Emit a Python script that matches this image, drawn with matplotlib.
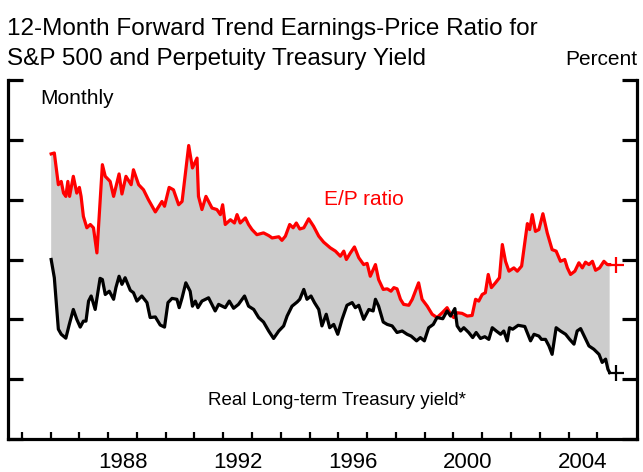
import matplotlib
matplotlib.use("Agg")
import matplotlib.pyplot as plt
import numpy as np

plt.rcParams['font.family'] = ['Liberation Sans', 'DejaVu Sans']

# ---- Data (percent) ----
ep_years = [1986.02, 1986.13, 1986.27, 1986.37, 1986.45, 1986.53, 1986.60, 1986.66, 1986.79, 1986.91,
            1987.00, 1987.06, 1987.14, 1987.26, 1987.38, 1987.49, 1987.61, 1987.80, 1987.90, 1988.07,
            1988.19, 1988.38, 1988.48, 1988.62, 1988.80, 1988.88, 1989.06, 1989.23, 1989.40, 1989.64,
            1989.87, 1989.96, 1990.12, 1990.27, 1990.45, 1990.57, 1990.80, 1990.93, 1991.09, 1991.14,
            1991.26, 1991.40, 1991.61, 1991.78, 1991.90, 1991.98, 1992.07, 1992.25, 1992.39, 1992.48,
            1992.59, 1992.77, 1992.88, 1993.00, 1993.17, 1993.40, 1993.58, 1993.70, 1993.93, 1994.04,
            1994.16, 1994.31, 1994.43, 1994.54, 1994.66, 1994.80, 1994.97, 1995.14, 1995.32, 1995.49,
            1995.72, 1995.90, 1996.07, 1996.19, 1996.28, 1996.42, 1996.56, 1996.71, 1996.88, 1997.00,
            1997.11, 1997.29, 1997.40, 1997.56, 1997.70, 1997.83, 1997.93, 1998.04, 1998.16, 1998.27,
            1998.45, 1998.57, 1998.68, 1998.79, 1998.91, 1999.09, 1999.26, 1999.43, 1999.61, 1999.78,
            1999.90, 2000.01, 2000.13, 2000.30, 2000.48, 2000.65, 2000.77, 2000.88, 2001.00, 2001.11,
            2001.21, 2001.32, 2001.46, 2001.60, 2001.70, 2001.81, 2001.93, 2002.10, 2002.22, 2002.37,
            2002.48, 2002.57, 2002.65, 2002.74, 2002.85, 2002.97, 2003.11, 2003.26, 2003.43, 2003.57,
            2003.72, 2003.87, 2003.96, 2004.07, 2004.22, 2004.36, 2004.48, 2004.59, 2004.71, 2004.83,
            2004.94, 2005.08, 2005.23, 2005.35, 2005.43]
ep_values = [9.53, 9.56, 8.50, 8.61, 8.22, 8.11, 8.61, 8.11, 8.78, 8.22,
             8.41, 8.11, 7.44, 7.06, 7.17, 7.06, 6.22, 9.17, 8.78, 8.61,
             8.11, 8.86, 8.19, 8.78, 8.50, 9.00, 8.50, 8.33, 8.00, 7.59,
             7.94, 7.78, 8.41, 8.33, 7.83, 7.94, 9.81, 9.06, 9.39, 8.11,
             7.67, 8.11, 7.72, 7.67, 7.50, 7.83, 7.17, 7.33, 7.22, 7.50,
             7.22, 7.39, 7.17, 7.00, 6.83, 6.89, 6.80, 6.72, 6.76, 6.64,
             6.78, 7.17, 7.06, 7.22, 7.02, 7.06, 7.36, 7.11, 6.78, 6.58,
             6.39, 6.28, 6.11, 6.28, 6.00, 6.22, 6.42, 6.06, 5.83, 5.87,
             5.44, 5.83, 5.33, 5.00, 5.02, 4.94, 5.06, 5.02, 4.67, 4.50,
             4.47, 4.67, 4.94, 5.22, 4.67, 4.44, 4.17, 4.06, 4.22, 4.39,
             4.17, 4.06, 4.22, 4.20, 4.11, 4.13, 4.67, 4.61, 4.83, 4.89,
             5.50, 5.06, 5.22, 5.39, 6.50, 5.94, 5.61, 5.72, 5.61, 5.78,
             6.56, 7.20, 7.00, 7.50, 6.94, 7.00, 7.53, 6.89, 6.33, 6.28,
             5.94, 6.00, 5.72, 5.50, 5.61, 5.89, 5.72, 5.91, 5.83, 5.94,
             5.64, 5.72, 5.94, 5.83, 5.83]

ry_years = [1986.02, 1986.13, 1986.27, 1986.37, 1986.53, 1986.65, 1986.79, 1986.91, 1987.03, 1987.14,
            1987.23, 1987.32, 1987.41, 1987.55, 1987.72, 1987.80, 1987.90, 1988.04, 1988.19, 1988.27,
            1988.38, 1988.48, 1988.59, 1988.77, 1988.88, 1989.00, 1989.17, 1989.35, 1989.46, 1989.64,
            1989.81, 1989.96, 1990.08, 1990.22, 1990.39, 1990.47, 1990.57, 1990.70, 1990.85, 1990.93,
            1991.03, 1991.12, 1991.26, 1991.49, 1991.72, 1991.84, 1992.07, 1992.21, 1992.36, 1992.53,
            1992.74, 1992.88, 1993.06, 1993.23, 1993.40, 1993.58, 1993.75, 1993.93, 1994.10, 1994.22,
            1994.39, 1994.57, 1994.66, 1994.80, 1994.91, 1995.05, 1995.17, 1995.32, 1995.43, 1995.58,
            1995.70, 1995.84, 1995.98, 1996.13, 1996.30, 1996.48, 1996.59, 1996.71, 1996.88, 1997.06,
            1997.21, 1997.29, 1997.40, 1997.56, 1997.70, 1997.87, 1998.04, 1998.22, 1998.39, 1998.53,
            1998.72, 1998.85, 1998.99, 1999.14, 1999.30, 1999.43, 1999.63, 1999.78, 1999.90, 2000.05,
            2000.13, 2000.25, 2000.36, 2000.53, 2000.67, 2000.79, 2000.94, 2001.09, 2001.23, 2001.35,
            2001.49, 2001.64, 2001.75, 2001.87, 2001.95, 2002.06, 2002.25, 2002.48, 2002.68, 2002.80,
            2002.97, 2003.06, 2003.20, 2003.32, 2003.43, 2003.57, 2003.72, 2003.90, 2004.04, 2004.19,
            2004.30, 2004.42, 2004.57, 2004.71, 2004.88, 2005.06, 2005.17, 2005.29, 2005.37, 2005.43]
ry_values = [6.00, 5.39, 3.67, 3.50, 3.37, 3.83, 4.33, 4.00, 3.74, 3.94,
             3.94, 4.61, 4.78, 4.33, 5.37, 5.33, 4.83, 4.94, 4.67, 5.06,
             5.44, 5.17, 5.39, 4.97, 4.89, 4.61, 4.78, 4.56, 4.06, 4.08,
             3.81, 3.74, 4.56, 4.70, 4.67, 4.39, 4.72, 5.22, 4.94, 4.44,
             4.61, 4.39, 4.61, 4.72, 4.28, 4.50, 4.39, 4.61, 4.37, 4.50,
             4.78, 4.44, 4.33, 4.06, 3.91, 3.61, 3.36, 3.61, 3.78, 4.11,
             4.44, 4.58, 4.67, 5.00, 4.67, 4.78, 4.56, 4.33, 3.78, 4.17,
             3.72, 3.83, 3.50, 4.00, 4.47, 4.56, 4.39, 4.47, 4.00, 4.33,
             4.28, 4.67, 4.44, 3.91, 3.83, 3.78, 3.56, 3.61, 3.50, 3.44,
             3.28, 3.39, 3.28, 3.72, 3.83, 4.06, 4.02, 4.28, 4.11, 4.36,
             3.78, 3.61, 3.72, 3.56, 3.39, 3.56, 3.36, 3.42, 3.33, 3.72,
             3.61, 3.50, 3.61, 3.28, 3.72, 3.67, 3.80, 3.76, 3.28, 3.50,
             3.44, 3.33, 3.33, 3.11, 2.83, 3.72, 3.61, 3.50, 3.33, 3.17,
             3.61, 3.69, 3.39, 3.11, 3.00, 2.83, 2.56, 2.67, 2.33, 2.22]

latest_year = 2005.64
ep_latest = 5.83
ry_latest = 2.22

label_years = ['1988', '1992', '1996', '2000', '2004']

# ---- Figure ----
W, H = 643, 472
fig = plt.figure(figsize=(W / 100, H / 100), dpi=100)
ax = fig.add_axes([8 / W, 1 - 439 / H, (637 - 8) / W, (439 - 80) / H])

ax.fill(np.r_[ep_years, ry_years[::-1]], np.r_[ep_values, ry_values[::-1]],
        color='#cccccc', lw=0, zorder=1)
ax.plot(ep_years, ep_values, color='#ff0000', lw=2.3, zorder=3, solid_joinstyle='round')
ax.plot(ry_years, ry_values, color='black', lw=2.3, zorder=3, solid_joinstyle='round')
ax.plot([latest_year], [ep_latest], marker='+', color='#ff0000', ms=11, mew=1.6, zorder=4)
ax.plot([latest_year], [ry_latest], marker='+', color='black', ms=11, mew=1.6, zorder=4)

ax.set_xlim(1984.52, 2006.38)
ax.set_ylim(0, 12)

for s in ['left', 'right', 'bottom']:
    ax.spines[s].set_linewidth(2.3)
ax.spines['top'].set_visible(False)

ax.set_yticks(range(0, 13, 2))
ax.tick_params(axis='y', which='major', direction='in', length=11, width=2.3,
               left=True, right=True, labelleft=False, labelright=False)

ax.set_xticks(range(1985, 2006))
ax.set_xticks([int(y) + 0.5 for y in label_years], minor=True)
ax.set_xticklabels(label_years, minor=True)
ax.tick_params(axis='x', which='major', direction='in', length=5, width=1.6,
               labelbottom=False)
ax.tick_params(axis='x', which='minor', length=0, labelsize=16, pad=9)

ax.text(1996.9, 8.0, 'E/P ratio', color='#ff0000', fontsize=15, ha='center', va='center')
ax.text(1995.97, 1.3, 'Real Long-term Treasury yield*', color='black', fontsize=13.5,
        ha='center', va='center')

fig.text(7 / W, 1 - 35 / H, '12-Month Forward Trend Earnings-Price Ratio for',
         fontsize=17.5, ha='left', va='baseline')
fig.text(7 / W, 1 - 65 / H, 'S&P 500 and Perpetuity Treasury Yield',
         fontsize=17.5, ha='left', va='baseline')
fig.text(637 / W, 1 - 65 / H, 'Percent', fontsize=15, ha='right', va='baseline')
fig.text(40 / W, 1 - 104 / H, 'Monthly', fontsize=15, ha='left', va='baseline')

fig.savefig('out.png', dpi=100)
